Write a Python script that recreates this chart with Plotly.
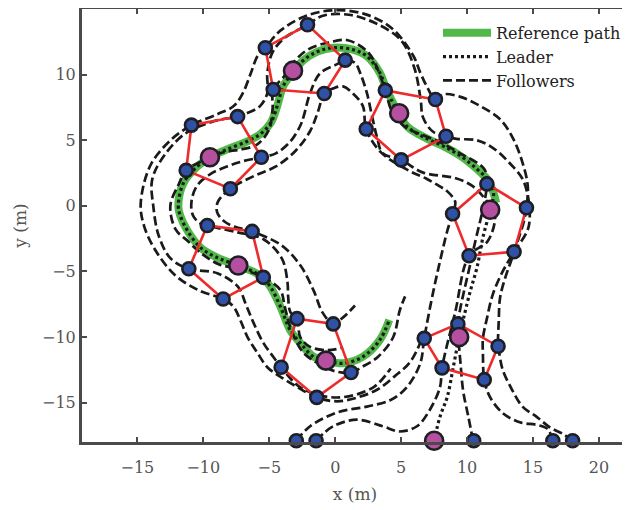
import plotly.graph_objects as go

# ---------------- data (metres) ----------------
# reference path (green)
ref_x = [12.2, 12.0, 11.5, 10.75, 9.5, 8.2, 7.0, 5.45, 4.4, 3.8, 3.4, 2.4, 1.35, -0.15, -1.35, -2.4,
         -3.2, -3.95, -4.4, -4.9, -5.7, -6.7, -8.2, -9.5, -10.45, -11.5, -11.9, -11.75, -11.2, -10.2,
         -8.95, -7.4, -5.7, -4.9, -4.15, -3.4, -2.65, -1.65, -0.7, 0.6, 2.1, 3.4, 4.1]
ref_y = [0.23, 1.0, 2.05, 2.8, 3.8, 4.55, 5.1, 6.05, 7.8, 9.1, 10.1, 11.4, 11.9, 12.05, 11.75, 11.1,
         10.2, 9.1, 7.6, 6.3, 5.45, 4.9, 4.3, 3.7, 3.0, 1.75, 0.0, -0.75, -1.9, -3.2,
         -3.95, -4.55, -5.3, -6.2, -7.7, -9.5, -10.45, -11.5, -11.8, -12.0, -11.5, -10.2, -8.7]

# leader approach before joining the reference path
lead_start_x = [7.5, 7.95, 8.5, 8.95, 9.4, 9.7, 10.2, 10.75, 11.2, 11.75]
lead_start_y = [-17.9, -16.05, -14.55, -12.3, -10.0, -8.7, -6.65, -4.7, -2.4, -0.3]

# follower trajectories
fA_x = [10.45, 10.1, 9.7, 9.5, 9.35, 9.3, 10.4, 11.5, 11.3, 9.34, 7.92, 6.52, 5.32, 4.3, 3.8, 3.03, 2.45,
        0.94, -0.49, -2.05, -3.1, -3.86, -4.7, -4.75, -5.02, -5.91, -7.2, -8.42, -9.92, -11.3, -11.84,
        -12.5, -12.1, -11.16, -10.19, -8.79, -7.24, -5.45, -4.16, -3.81, -3.35, -2.45, -1.4, -0.04, 1.2,
        2.0, 3.25, 4.4, 4.9, 5.3]
fA_y = [-17.9, -16.1, -14.1, -12.0, -10.2, -9.0, -3.7, 1.67, 2.8, 4.07, 4.86, 5.44, 5.99, 7.2, 8.8, 10.84,
        11.75, 12.62, 12.45, 11.92, 11.0, 9.88, 8.86, 7.38, 5.8, 4.69, 4.28, 4.1, 3.5, 2.7, 1.7,
        0.0, -1.8, -2.7, -3.6, -4.47, -4.8, -5.45, -6.42, -7.76, -9.42, -11.15, -11.95, -12.6, -12.7,
        -12.3, -11.5, -10.0, -7.95, -6.9]

fB_x = [18.0, 17.3, 16.3, 15.3, 14.2, 13.4, 12.7, 12.45, 12.35, 12.4, 12.5, 12.9, 13.3, 13.8, 14.3,
        14.5, 14.6, 14.2, 13.5, 12.5,
        11.0, 9.5, 8.2, 7.6, 6.97, 6.44, 5.92, 4.31, 2.19, -0.25, -2.37, -4.16, -5.3, -5.9, -6.4, -7.0, -7.7,
        -8.9, -10.4, -10.9, -12.32, -13.99, -14.75, -14.49, -13.67, -12.18, -10.29, -8.5, -7.7, -7.2,
        -6.65, -5.9, -5.15, -4.2, -2.9, -1.4, 0.15, 1.7, 3.2, 4.5, 5.67, 6.64]
fB_y = [-17.9, -17.4, -16.9, -16.1, -15.3, -14.0, -12.5, -11.3, -10.7, -8.8, -7.0, -5.45, -4.3, -2.8, -1.2,
        -0.15, 1.5, 3.3, 5.1, 6.6,
        7.6, 8.3, 8.5, 8.1, 9.05, 10.17, 11.44, 13.52, 14.63, 14.9, 14.41, 13.35, 12.05, 11.4, 10.1, 8.6, 7.6,
        7.0, 6.4, 6.15, 5.15, 3.13, 0.15, -1.54, -3.33, -5.25, -6.47, -7.1, -7.7, -8.7,
        -10.0, -11.2, -12.3, -13.0, -13.8, -14.6, -14.9, -14.6, -14.0, -13.0, -11.92, -10.0]

fC_x = [16.5, 16.1, 15.3, 14.0, 12.7, 11.7, 11.3, 11.2, 11.2, 11.5, 11.95, 12.7, 13.56, 14.68, 14.31,
        13.16, 11.89, 10.69, 9.2,
        8.4, 7.4, 6.65, 6.48, 5.99, 4.97, 3.03, 1.04, -0.93, -2.1, -3.95, -4.8, -5.15, -5.15, -5.7, -6.7,
        -7.4, -9.16, -11.47, -13.3, -13.9, -13.8, -13.4, -12.5, -11.1, -8.9, -7.35, -6.8, -6.2,
        -5.45, -4.7, -4.1, -2.58, 0.12, 2.86, 4.2]
fC_y = [-17.9, -17.0, -16.7, -16.5, -15.8, -14.5, -13.25, -11.3, -10.1, -8.6, -6.75, -5.0, -3.5, -1.54,
        1.82, 3.32, 4.46, 5.01, 5.1,
        5.3, 5.66, 6.76, 8.07, 10.54, 12.64, 13.93, 14.56, 14.49, 13.8, 12.7, 11.6, 10.1, 8.6, 7.6, 7.05,
        6.8, 6.46, 5.44, 3.33, 1.88, 0.02, -2.22, -3.99, -4.8, -5.15, -6.2, -7.45, -8.9,
        -10.45, -11.5, -12.3, -13.88, -14.61, -13.85, -12.39]

fD_x = [-1.45, -0.15, 1.65, 3.6, 4.9, 6.2, 7.2, 7.95, 8.1, 9.1, 10.15, 11.58, 12.1, 11.31, 10.34, 9.14,
        6.62, 5.0, 3.6, 3.2, 2.8, 2.4, 1.9, 1.5, 0.76, 0.15, -1.15, -1.9, -2.4, -2.65, -3.4, -4.5, -5.6,
        -7.0, -8.2, -9.5, -10.5, -10.9, -10.8, -10.3, -9.7, -7.4, -5.44, -4.05, -3.62, -3.57, -3.4,
        -2.9, -2.65, -1.9, -0.6, 0.6]
fD_y = [-17.9, -16.8, -16.3, -16.8, -17.2, -16.8, -15.5, -13.8, -12.35, -8.1, -3.8, -2.67, -0.63, 0.59,
        1.55, 2.1, 2.55, 3.5, 4.0, 5.1, 6.8, 8.6, 10.1, 10.9, 11.1, 10.8, 10.1, 8.6, 6.8, 6.1, 4.9, 4.0,
        3.7, 3.4, 3.0, 2.4, 1.5, 0.3, -0.7, -1.3, -1.5, -2.02, -2.55, -4.01, -5.82, -6.88, -8.1,
        -8.6, -10.0, -10.75, -11.0, -10.8]

fE_x = [-2.95, -1.9, 0.15, 2.4, 4.2, 5.45, 6.45, 6.75, 7.4, 7.95, 8.5, 8.9, 9.1, 8.5, 7.93, 6.89, 5.69,
        3.47, 2.35, 2.1, 1.35, 0.6, -0.15, -0.83, -1.3, -1.9, -3.0, -4.5, -6.1, -7.95, -8.9, -8.95,
        -8.4, -7.6, -6.3, -4.05, -2.61, -1.61, -0.98, -0.15, 0.6, 1.5]
fE_y = [-17.9, -16.8, -15.75, -15.3, -14.8, -13.8, -12.0, -10.1, -6.7, -4.2, -1.9, -0.6, 0.3, 1.1, 1.48,
        2.08, 2.63, 4.07, 5.85, 7.6, 8.55, 9.1, 8.95, 8.56, 7.2, 5.7, 4.2, 3.0, 2.3, 1.3, 0.3, -0.5,
        -1.2, -1.6, -1.95, -3.03, -4.59, -6.52, -8.1, -9.0, -8.5, -7.6]

# snapshots (start, then 7 formation snapshots)
snapL_x = [7.5, 9.4, 11.75, 4.85, -3.2, -9.5, -7.35, -0.7]
snapL_y = [-17.9, -10.0, -0.3, 7.05, 10.3, 3.7, -4.55, -11.8]
snapA_x = [10.5, 9.3, 11.5, 3.8, -4.7, -11.3, -5.45, 1.2]
snapA_y = [-17.9, -9.0, 1.67, 8.8, 8.86, 2.7, -5.45, -12.7]
snapB_x = [18.0, 12.35, 14.5, 7.6, -5.3, -10.9, -8.5, -1.4]
snapB_y = [-17.9, -10.7, -0.15, 8.1, 12.05, 6.15, -7.1, -14.6]
snapC_x = [16.5, 11.3, 13.56, 8.4, -2.1, -7.4, -11.1, -4.1]
snapC_y = [-17.9, -13.25, -3.5, 5.3, 13.8, 6.8, -4.8, -12.3]
snapD_x = [-1.45, 8.1, 10.15, 5.0, 0.76, -5.6, -9.7, -2.9]
snapD_y = [-17.9, -12.35, -3.8, 3.5, 11.1, 3.7, -1.5, -8.6]
snapE_x = [-2.95, 6.75, 8.9, 2.35, -0.83, -7.95, -6.3, -0.15]
snapE_y = [-17.9, -10.1, -0.6, 5.85, 8.56, 1.3, -1.95, -9.0]

x_ticks = [-15, -10, -5, 0, 5, 10, 15, 20]
y_ticks = [-15, -10, -5, 0, 5, 10]

# ---------------- figure ----------------
FONT = "DejaVu Serif"
AX = "#4a4a4a"
fig = go.Figure()

fig.add_trace(go.Scatter(x=ref_x, y=ref_y, mode="lines", name="Reference path",
                         line=dict(color="#52b848", width=8, shape="spline"),
                         legendrank=1, cliponaxis=False))

fol = [(fA_x, fA_y), (fB_x, fB_y), (fC_x, fC_y), (fD_x, fD_y), (fE_x, fE_y)]
for i, (fx, fy) in enumerate(fol):
    fig.add_trace(go.Scatter(x=fx, y=fy, mode="lines", name="Followers",
                             legendgroup="fol", showlegend=(i == 0), legendrank=3,
                             line=dict(color="#1a1a1a", width=2.7, dash="9px,4px",
                                       shape="spline", smoothing=1.0),
                             cliponaxis=False))

lead_x = lead_start_x + ref_x[1:]
lead_y = lead_start_y + ref_y[1:]
fig.add_trace(go.Scatter(x=lead_x, y=lead_y, mode="lines", name="Leader", legendrank=2,
                         line=dict(color="#1a1a1a", width=3.2, dash="3px,3px", shape="spline"),
                         cliponaxis=False))

# red formation edges
ex, ey = [], []
snaps = [(snapA_x, snapA_y), (snapB_x, snapB_y), (snapC_x, snapC_y),
         (snapD_x, snapD_y), (snapE_x, snapE_y)]
for k in range(1, len(snapL_x)):
    for sx, sy in snaps + [snaps[0]]:
        ex.append(sx[k]); ey.append(sy[k])
    ex.append(None); ey.append(None)
fig.add_trace(go.Scatter(x=ex, y=ey, mode="lines", showlegend=False,
                         line=dict(color="#ee2b2b", width=2.6), cliponaxis=False))

bx, by = [], []
for sx, sy in snaps:
    bx += sx; by += sy
fig.add_trace(go.Scatter(x=bx, y=by, mode="markers", showlegend=False, cliponaxis=False,
                         marker=dict(size=13, color="#3052a6",
                                     line=dict(color="#1e1e24", width=2.6))))
fig.add_trace(go.Scatter(x=snapL_x, y=snapL_y, mode="markers", showlegend=False, cliponaxis=False,
                         marker=dict(size=18, color="#b4509f",
                                     line=dict(color="#1e1e24", width=2.6))))

axis_common = dict(showgrid=False, zeroline=False, showline=True, linecolor=AX, linewidth=3,
                   mirror="ticks", ticks="inside", ticklen=5, tickwidth=2, tickcolor=AX,
                   automargin=False,
                   tickfont=dict(family=FONT, size=16, color="#555555"))
fig.update_layout(
    width=630, height=510,
    margin=dict(l=74, r=10, t=1, b=76, autoexpand=False),
    paper_bgcolor="white", plot_bgcolor="white",
    xaxis=dict(range=[-19.2, 22.2], tickvals=x_ticks, ticklabelstandoff=9,
               title=dict(text="x (m)", font=dict(family=FONT, size=17, color="#555555"), standoff=12),
               **axis_common),
    yaxis=dict(range=[-18.0, 15.0], tickvals=y_ticks,
               title=dict(text="y (m)", font=dict(family=FONT, size=17, color="#555555"), standoff=12),
               **axis_common),
    legend=dict(x=0.652, xanchor="left", y=0.984, yanchor="top", bgcolor="rgba(255,255,255,0)",
                font=dict(family=FONT, size=16, color="#222222"), itemwidth=48,
                tracegroupgap=0),
    showlegend=True,
)

fig.write_html("out.html")
